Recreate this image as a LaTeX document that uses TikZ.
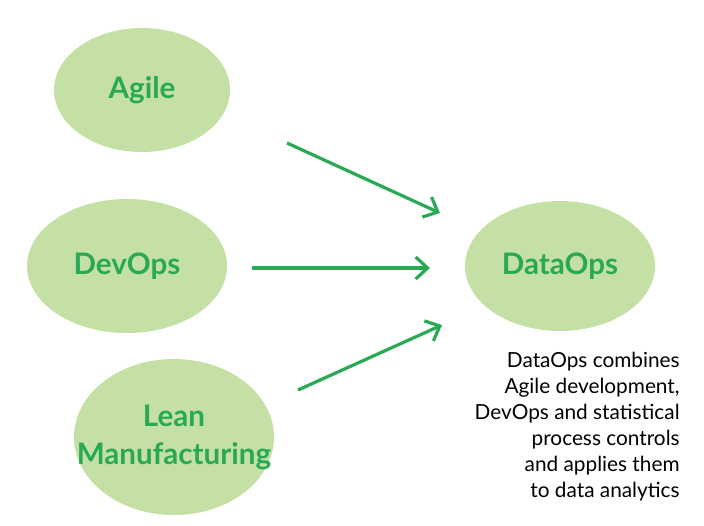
\documentclass[tikz,border=0pt]{standalone}
\usepackage{fontspec}
\setmainfont{Lato}
\usetikzlibrary{arrows.meta}
\definecolor{blobfill}{HTML}{C4E0A4}
\definecolor{leafgreen}{HTML}{2AA955}
\tikzset{
  blobtext/.style = {text=leafgreen, align=center,
    font=\bfseries\fontsize{14.8}{19}\selectfont},
  flow/.style = {draw=leafgreen, line width=1.6pt,
    -{Straight Barb[length=6pt,width=11pt,line width=1.6pt]}}
}
\begin{document}
\begin{tikzpicture}[x=0.5pt,y=-0.5pt]
  \useasboundingbox (0,0) rectangle (704,525);
  \fill[blobfill] (142,90) ellipse [x radius=88, y radius=62];
  \node (agile) at (142,90) [blobtext] {Agile};
  \fill[blobfill] (127,266) ellipse [x radius=100, y radius=67];
  \node (devops) at (127,266) [blobtext] {DevOps};
  \fill[blobfill] (174,437) ellipse [x radius=100, y radius=78];
  \node (lean) at (174,437) [blobtext] {Lean\\Manufacturing};
  \fill[blobfill] (560,266) ellipse [x radius=95, y radius=65];
  \node (dataops) at (560,266) [blobtext] {DataOps};
  % connectors
  \coordinate (a1) at (287,143);
  \coordinate (a2) at (440,213);
  \coordinate (d1) at (252,268);
  \coordinate (d2) at (430,268);
  \coordinate (l1) at (298,390);
  \coordinate (l2) at (442,325);
  \draw[flow] (a1) -- (a2);
  \draw[flow] (d1) -- (d2);
  \draw[flow] (l1) -- (l2);
  \node (note) [anchor=north east, align=right, inner sep=0pt,
    font=\fontsize{10.4}{13}\selectfont] at (680,352)
    {DataOps combines\\Agile development,\\DevOps and statistical\\process controls\\and applies them\\to data analytics};
\end{tikzpicture}
\end{document}
